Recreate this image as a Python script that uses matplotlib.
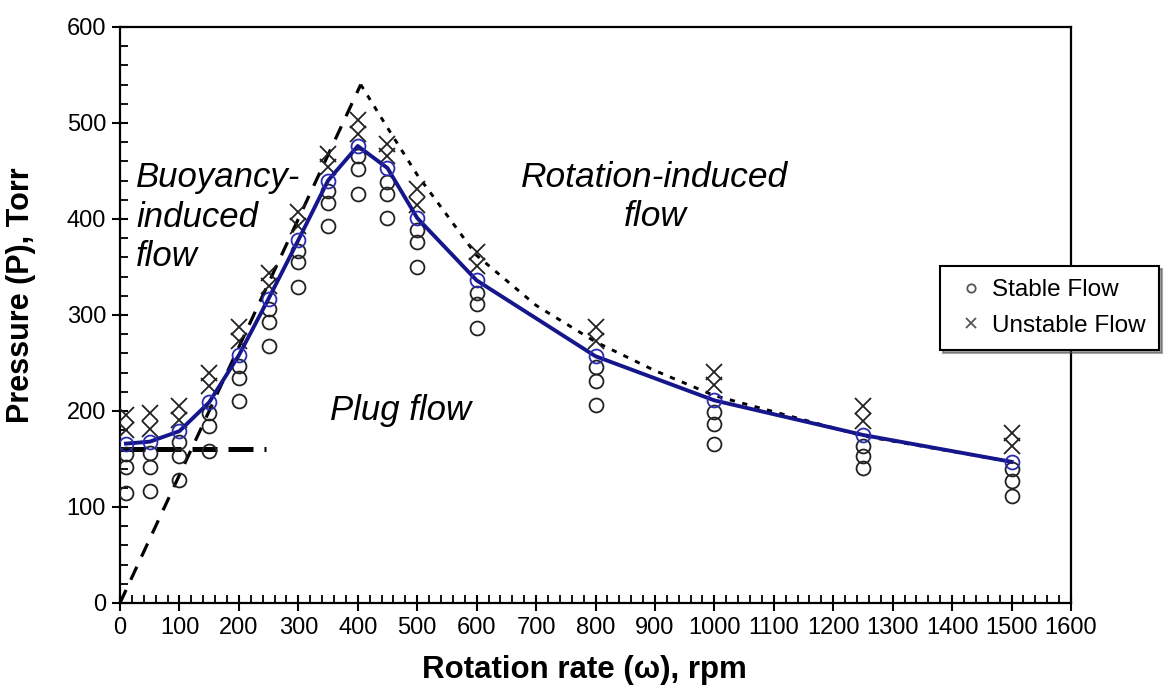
import matplotlib.pyplot as plt

plt.rcParams['font.family'] = ['Liberation Sans', 'DejaVu Sans']

# rotation rates (rpm)
rpm = [10, 50, 100, 150, 200, 250, 300, 350, 400, 450, 500, 600, 800, 1000, 1250, 1500]

# stable flow points (three lower circles at each rate)
stable_1 = [155, 156, 168, 198, 247, 306, 367, 429, 466, 439, 389, 323, 246, 199, 164, 140]
stable_2 = [142, 142, 153, 184, 234, 293, 355, 417, 452, 426, 376, 311, 231, 186, 153, 127]
stable_3 = [115, 117, 128, 158, 210, 268, 329, 393, 426, 401, 350, 286, 206, 166, 141, 111]

# transition curve (top stable point, blue)
critical = [166, 168, 179, 209, 258, 317, 378, 440, 476, 453, 401, 336, 257, 211, 175, 147]

# unstable flow points
unstable_1 = [196, 198, 205, 240, 287, 344, 407, 468, 503, 478, 431, 366, 287, 241, 205, 177]
unstable_2 = [180, 181, 191, 226, 273, 330, 393, 454, 488, 466, 415, 351, 273, 227, 190, 163]

# guide lines
buoy_x = [0, 405]
buoy_y = [0, 540]
plug_x = [0, 245]
plug_y = [160, 160]
rot_x = [405, 450, 500, 600, 700, 800, 900, 1000, 1250, 1500]
rot_y = [540, 495, 446, 362, 310, 272, 242, 216, 174, 147]

fig = plt.figure(figsize=(11.64, 6.91), dpi=100)
ax = fig.add_axes([0.1031, 0.1274, 0.817, 0.8336])

ax.plot(plug_x, plug_y, color='black', lw=3.6, dashes=(5, 2.2), zorder=3)
ax.plot(buoy_x, buoy_y, color='black', lw=2.3, dashes=(4.5, 3.5), zorder=3)
ax.plot(rot_x, rot_y, color='black', lw=2.1, dashes=(1.8, 2.6), zorder=3)

st_x = rpm * 3
st_y = stable_1 + stable_2 + stable_3
ax.plot(st_x, st_y, 'o', ms=10, mfc='none', mec='#222222', mew=1.3,
        ls='none', label='Stable Flow', zorder=4)
un_x = rpm * 2
un_y = unstable_1 + unstable_2
ax.plot(un_x, un_y, 'x', ms=11, mec='#222222', mew=1.3,
        ls='none', label='Unstable Flow', zorder=4)

ax.plot(rpm, critical, color='#16168c', lw=2.8, marker='o', ms=10,
        mfc='none', mec='#2b2bb0', mew=1.3, zorder=5)

ax.set_xlim(0, 1600)
ax.set_ylim(0, 600)
ax.set_xticks(range(0, 1601, 100))
ax.set_yticks(range(0, 601, 100))
ax.set_xticks(range(0, 1601, 20), minor=True)
ax.set_yticks(range(0, 601, 20), minor=True)
ax.tick_params(which='major', direction='inout', length=12, width=1.5,
               labelsize=17, pad=4)
ax.tick_params(which='minor', direction='in', length=6, width=1.3)
for s in ax.spines.values():
    s.set_linewidth(1.6)

ax.set_xlabel('Rotation rate (ω), rpm', fontsize=22.5, fontweight='bold')
ax.set_ylabel('Pressure (P), Torr', fontsize=22, fontweight='bold')
ax.xaxis.set_label_coords(0.488, -0.09)
ax.yaxis.set_label_coords(-0.088, 0.535)

ax.text(27, 402, 'Buoyancy-\ninduced\nflow', fontsize=25, style='italic',
        ha='left', va='center', linespacing=1.25)
ax.text(900, 423, 'Rotation-induced\nflow', fontsize=25.5, style='italic',
        ha='center', va='center', linespacing=1.25)
ax.text(472, 200, 'Plug flow', fontsize=25, style='italic',
        ha='center', va='center')

leg = ax.legend(loc='upper left', bbox_to_anchor=(0.862, 0.585), fontsize=17.5,
                frameon=True, fancybox=False, shadow=True, markerscale=0.6,
                handlelength=1.5, handletextpad=0.1, borderpad=0.55,
                labelspacing=0.55, borderaxespad=0)
leg.get_frame().set_edgecolor('black')
leg.get_frame().set_linewidth(1.5)
for h in leg.legend_handles:
    h.set_markeredgecolor('#555555')
leg.set_zorder(10)

fig.savefig('out.png', dpi=100)
